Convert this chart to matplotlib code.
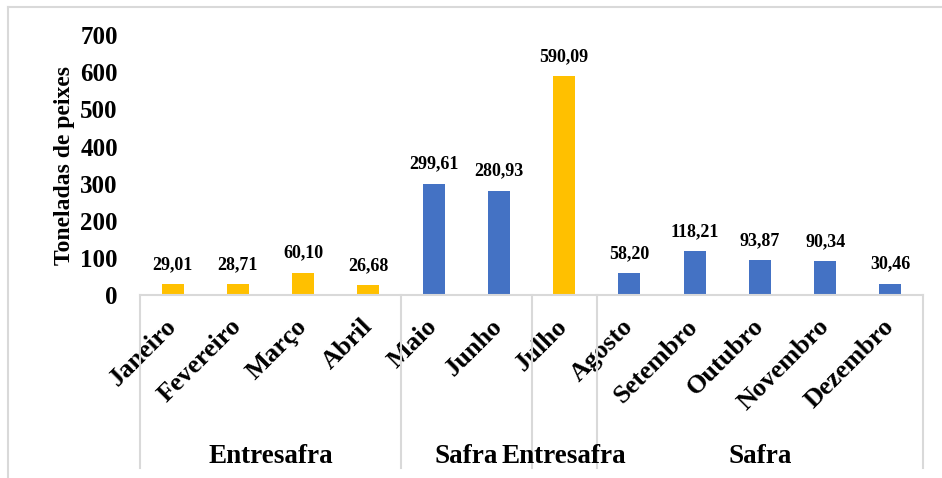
import matplotlib
matplotlib.use("Agg")
import matplotlib.pyplot as plt
import matplotlib.transforms as mtransforms
from matplotlib.lines import Line2D
import numpy as np

plt.rcParams["font.family"] = ["Liberation Serif", "DejaVu Serif"]
plt.rcParams["font.weight"] = "bold"

months = ["Janeiro", "Fevereiro", "Março", "Abril", "Maio", "Junho", "Julho",
          "Agosto", "Setembro", "Outubro", "Novembro", "Dezembro"]
tons = [29.01, 28.71, 60.10, 26.68, 299.61, 280.93, 590.09,
        58.20, 118.21, 93.87, 90.34, 30.46]
period = ["Entresafra"] * 4 + ["Safra"] * 2 + ["Entresafra"] + ["Safra"] * 5
value_labels = ["29,01", "28,71", "60,10", "26,68", "299,61", "280,93", "590,09",
                "58,20", "118,21", "93,87", "90,34", "30,46"]
y_ticks = [0, 100, 200, 300, 400, 500, 600, 700]

YELLOW = "#FFC000"
BLUE = "#4472C4"
GREY = "#d9d9d9"

fig = plt.figure(figsize=(9.42, 4.78), dpi=100)
ax = fig.add_axes([140 / 942, 1 - 295 / 478, 783 / 942, 259.7 / 478])

x = np.arange(len(months))
colors = [YELLOW if p == "Entresafra" else BLUE for p in period]
ax.bar(x, tons, width=0.34, color=colors)
ax.set_xlim(-0.5, len(months) - 0.5)
ax.set_ylim(0, 700)

for xi, v, lbl in zip(x, tons, value_labels):
    ax.annotate(lbl, (xi, v), xytext=(0, 8), textcoords="offset points",
                ha="center", va="bottom", fontsize=13, fontweight="bold")

ax.set_yticks(y_ticks)
ax.set_yticklabels([str(t) for t in y_ticks], fontsize=18, fontweight="bold")
ax.tick_params(axis="y", length=0, pad=16)
ax.set_ylabel("Toneladas de peixes", fontsize=17, fontweight="bold", labelpad=4)

ax.set_xticks(x)
ax.set_xticklabels(months, fontsize=19, fontweight="bold", rotation=45,
                   ha="right", va="center", rotation_mode="anchor")
ax.tick_params(axis="x", length=0, pad=20)

for s in ["left", "right", "top"]:
    ax.spines[s].set_visible(False)
ax.spines["bottom"].set_color(GREY)
ax.spines["bottom"].set_linewidth(1.5)

# grouping of months into periods under the axis
trans = mtransforms.blended_transform_factory(ax.transData, ax.transAxes)
bounds = [-0.5, 3.5, 5.5, 6.5, 11.5]
for b in bounds:
    ax.plot([b, b], [0, -0.666], color=GREY, lw=1.5, transform=trans, clip_on=False)
groups = [("Entresafra", 0, 3), ("Safra", 4, 5), ("Entresafra", 6, 6), ("Safra", 7, 11)]
for name, a, b in groups:
    ax.text((a + b) / 2, -0.62, name, transform=trans, ha="center", va="center",
            fontsize=19.5, fontweight="bold")

# outer chart frame
fig.add_artist(Line2D([8 / 942, 1], [1 - 7 / 478, 1 - 7 / 478], color=GREY, lw=1.5))
fig.add_artist(Line2D([8 / 942, 8 / 942], [0, 1 - 7 / 478], color=GREY, lw=1.5))

fig.savefig("out.png", dpi=100)
